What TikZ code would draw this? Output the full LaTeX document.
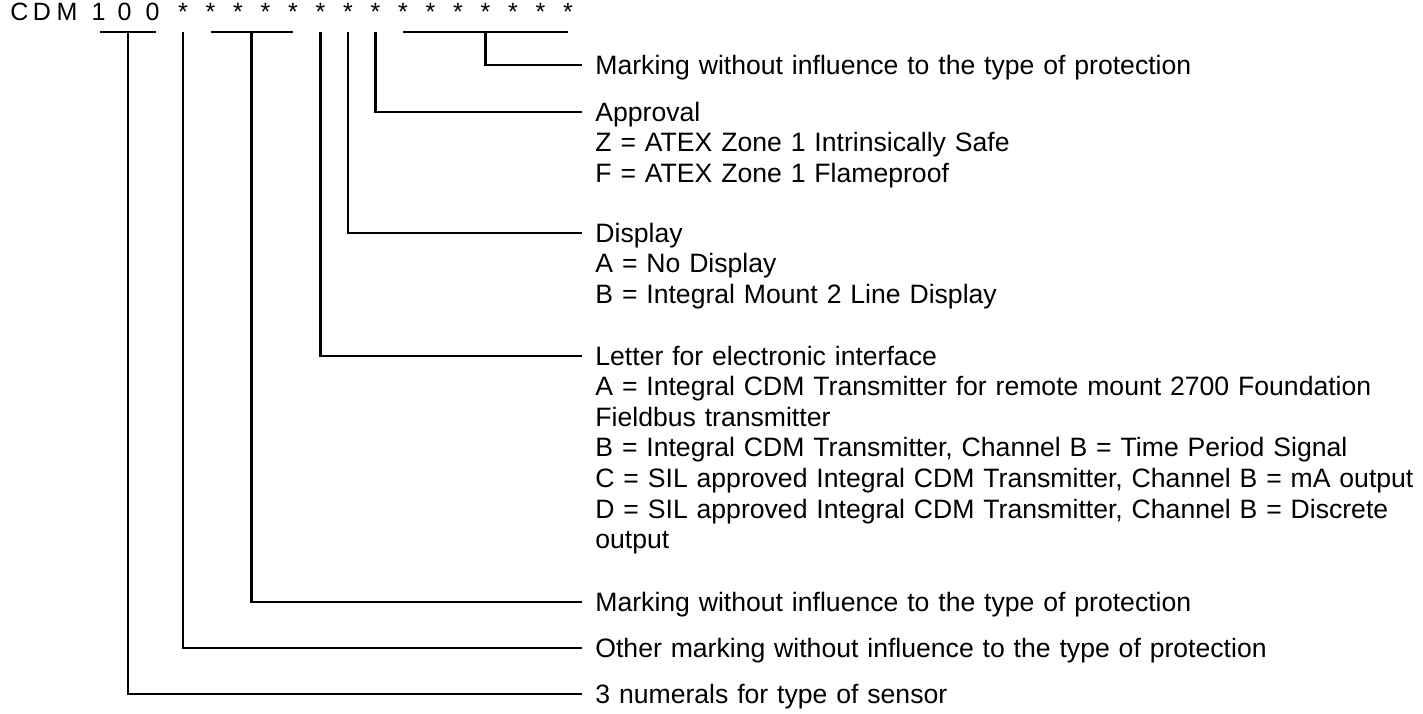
\documentclass[tikz,border=0pt]{standalone}
\usepackage{fontspec}
\setmainfont{Liberation Sans}
\usepackage{tikz}
\usetikzlibrary{calc}

\tikzset{
  code/.style={font=\fontsize{12.5}{14}\selectfont, anchor=base, inner sep=0pt},
  lbl/.style={font=\fontsize{13.3}{15.3}\selectfont, anchor=base west, inner sep=0pt,
              text width=420pt, align=left},
  lead/.style={line width=1.35pt, black},
}

\begin{document}
\begin{tikzpicture}[x=0.5pt,y=-0.5pt]
	\useasboundingbox (0,0) rectangle (1423,713);

	% type code
	\node[code] (cC) at (19.5,20) {C};
	\node[code] (cD) at (42,20)   {D};
	\node[code] (cM) at (67,20)   {M};
	\node[code] (n1) at (98.5,20) {1};
	\node[code] (n2) at (124.5,20) {0};
	\node[code] (n3) at (152.5,20) {0};
	\foreach \k in {1,...,15}
		\node[code] (s\k) at ({183+27.5*(\k-1)},20) {*};

	% taps under the code
	\coordinate (t1) at (128,32);
	\coordinate (t2) at (s1 |- t1);
	\coordinate (t3) at ($(s2 |- t1)!.5!(s5 |- t1)$);
	\coordinate (t4) at (s6 |- t1);
	\coordinate (t5) at (s7 |- t1);
	\coordinate (t6) at (s8 |- t1);
	\coordinate (t7) at ($(s9 |- t1)!.5!(s15 |- t1)$);

	\draw[lead] (100,32) -- (156,32);
	\draw[lead] (s2 |- t1) -- (s5 |- t1);
	\draw[lead] (s9 |- t1) -- (s15 |- t1);

	% descriptions
	\node[lbl] (mark3) at (595,74) {Marking without influence to the type of protection};
	\node[lbl] (appr) at (595,121) {Approval\\
		Z = ATEX Zone 1 Intrinsically Safe\\
		F = ATEX Zone 1 Flameproof};
	\node[lbl] (disp) at (595,242) {Display\\
		A = No Display\\
		B = Integral Mount 2 Line Display};
	\node[lbl] (iface) at (595,365) {Letter for electronic interface\\
		A = Integral CDM Transmitter for remote mount 2700 Foundation\\
		Fieldbus transmitter\\
		B = Integral CDM Transmitter, Channel B = Time Period Signal\\
		C = SIL approved Integral CDM Transmitter, Channel B = mA output\\
		D = SIL approved Integral CDM Transmitter, Channel B = Discrete\\
		output};
	\node[lbl] (mark2) at (595,611) {Marking without influence to the type of protection};
	\node[lbl] (other) at (595,657) {Other marking without influence to the type of protection};
	\node[lbl] (sens) at (595,703) {3 numerals for type of sensor};

	% leaders
	\draw[lead] (t7) |- ([shift={(-13,-9)}]mark3.base west);
	\draw[lead] (t6) |- ([shift={(-13,-9)}]appr.base west);
	\draw[lead] (t5) |- ([shift={(-13,-9)}]disp.base west);
	\draw[lead] (t4) |- ([shift={(-13,-9)}]iface.base west);
	\draw[lead] (t3) |- ([shift={(-13,-9)}]mark2.base west);
	\draw[lead] (t2) |- ([shift={(-13,-9)}]other.base west);
	\draw[lead] (t1) |- ([shift={(-13,-9)}]sens.base west);
\end{tikzpicture}
\end{document}
